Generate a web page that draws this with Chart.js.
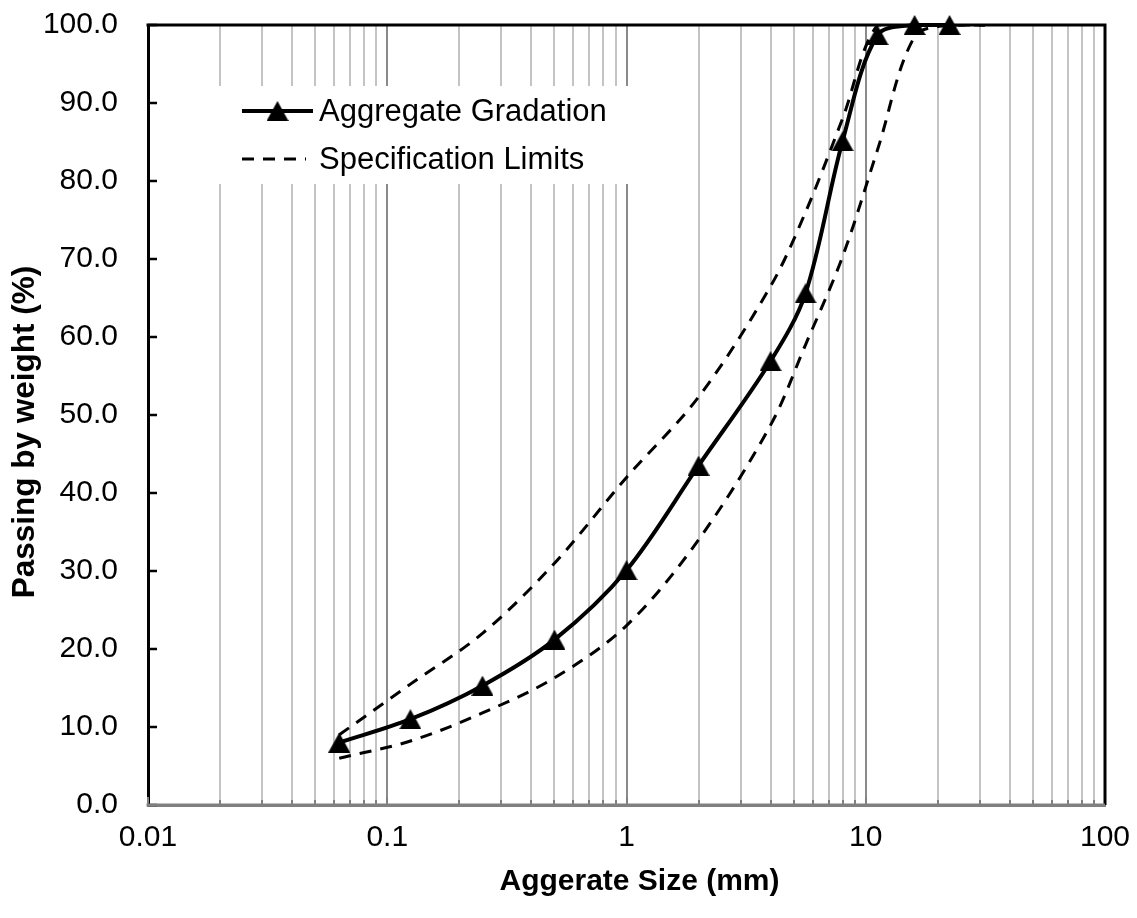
<!DOCTYPE html>
<html>
<head>
<meta charset="utf-8">
<script src="https://cdn.jsdelivr.net/npm/chart.js@4.4.1/dist/chart.umd.min.js"></script>
<style>
  html, body { margin: 0; padding: 0; background: #ffffff; }
  #wrap { width: 1137px; height: 918px; position: relative; }
</style>
</head>
<body>
<div id="wrap"><canvas id="chart"></canvas></div>
<script>
// ---------------- data ----------------
const sieveSizes   = [0.063, 0.125, 0.25, 0.5, 1, 2, 4, 5.6, 8, 11.2, 16, 22.4];
const gradation    = [8.0, 11.0, 15.3, 21.2, 30.1, 43.5, 56.9, 65.6, 85.1, 98.7, 100, 100];
const specSizes    = [0.063, 0.125, 0.25, 0.5, 1, 2, 4, 5.6, 8, 11.2, 16, 22.4, 31.5];
const specUpper    = [9.0, 15.5, 22.0, 31.0, 42.0, 52.3, 66.5, 76.0, 88.0, 100, 100, 100, 100];
const specLower    = [6.0, 8.2, 11.8, 16.3, 23.0, 34.0, 48.7, 59.0, 70.3, 84.0, 98.5, 100, 100];
const seriesNames  = ['Aggregate Gradation', 'Specification Limits'];
const xTickLabels  = ['0.01', '0.1', '1', '10', '100'];
const xDecades     = [0.01, 0.1, 1, 10, 100];
const gridMultipliers = [1, 2, 3, 4, 5, 6, 7, 8, 9];
const yMin = 0, yMax = 100, yStep = 10;
const xTitle = 'Aggerate Size (mm)';
const yTitle = 'Passing by weight (%)';

// ---------------- helpers ----------------
const FONT = '"Liberation Sans", Arial, Helvetica, sans-serif';
const isDecade = v => Math.abs(Math.log10(v) - Math.round(Math.log10(v))) < 1e-9;

const gridValues = [];
for (let i = 0; i < xDecades.length - 1; i++) {
  for (const m of gridMultipliers) gridValues.push(+(m * xDecades[i]).toPrecision(6));
}
gridValues.push(xDecades[xDecades.length - 1]);

function triangleCanvas(w, h) {
  const c = document.createElement('canvas');
  c.width = w; c.height = h;
  const g = c.getContext('2d');
  g.fillStyle = '#000';
  g.beginPath();
  g.moveTo(w / 2, 0);
  g.lineTo(w, h);
  g.lineTo(0, h);
  g.closePath();
  g.fill();
  return c;
}
const tri = triangleCanvas(22, 20);

const toPts = (xs, ys) => xs.map((x, i) => ({ x: x, y: ys[i] }));

// ---------------- plugins ----------------
const framePlugin = {
  id: 'frame',
  afterDatasetsDraw(chart) {
    const { ctx, chartArea: a, scales } = chart;
    ctx.save();
    // inward x ticks (gray)
    ctx.strokeStyle = '#808080';
    ctx.lineWidth = 2;
    for (const v of gridValues) {
      const px = Math.round(scales.x.getPixelForValue(v));
      const len = isDecade(v) ? 8 : 5;
      ctx.beginPath();
      ctx.moveTo(px, a.bottom);
      ctx.lineTo(px, a.bottom - len);
      ctx.stroke();
    }
    // inward y ticks (black)
    ctx.strokeStyle = '#000';
    ctx.lineWidth = 2.5;
    for (let v = yMin; v <= yMax; v += yStep) {
      const py = scales.y.getPixelForValue(v);
      ctx.beginPath();
      ctx.moveTo(a.left, py);
      ctx.lineTo(a.left + 9, py);
      ctx.stroke();
    }
    // top and right frame
    ctx.strokeStyle = '#000';
    ctx.lineWidth = 3;
    ctx.beginPath();
    ctx.moveTo(a.left - 1.5, a.top);
    ctx.lineTo(a.right, a.top);
    ctx.lineTo(a.right, a.bottom);
    ctx.stroke();
    // bottom axis on top at corner
    ctx.strokeStyle = '#808080';
    ctx.beginPath();
    ctx.moveTo(a.left - 1.5, a.bottom);
    ctx.lineTo(a.right, a.bottom);
    ctx.stroke();

    // legend inside plot
    const lx = a.left + 64, ly = a.top + 61, lw = 418, lh = 98;
    ctx.fillStyle = '#fff';
    ctx.fillRect(lx, ly, lw, lh);
    const row1 = ly + 25, row2 = ly + 73;
    const sx0 = lx + 30, sx1 = lx + 101;
    ctx.strokeStyle = '#000';
    ctx.setLineDash([]);
    ctx.lineWidth = 4;
    ctx.beginPath();
    ctx.moveTo(sx0, row1);
    ctx.lineTo(sx1, row1);
    ctx.stroke();
    ctx.drawImage(tri, (sx0 + sx1) / 2 - tri.width / 2, row1 - tri.height / 2);
    ctx.lineWidth = 3;
    ctx.setLineDash([12, 9]);
    ctx.beginPath();
    ctx.moveTo(sx0, row2);
    ctx.lineTo(sx0 + 64, row2);
    ctx.stroke();
    ctx.setLineDash([]);
    ctx.fillStyle = '#000';
    ctx.font = '31px ' + FONT;
    ctx.textBaseline = 'middle';
    ctx.textAlign = 'left';
    ctx.fillText(chart.data.datasets[0].label, lx + 107, row1 + 1);
    ctx.fillText(chart.data.datasets[1].label, lx + 107, row2 + 1);

    // axis titles
    ctx.textAlign = 'center';
    ctx.textBaseline = 'middle';
    ctx.font = 'bold 30px ' + FONT;
    ctx.fillText(xTitle, (a.left + a.right) / 2 + 13, a.bottom + 77);
    ctx.translate(25, (a.top + a.bottom) / 2 + 17);
    ctx.rotate(-Math.PI / 2);
    ctx.font = 'bold 31.5px ' + FONT;
    ctx.fillText(yTitle, 0, 0);
    ctx.restore();
  }
};

// ---------------- chart ----------------
new Chart(document.getElementById('chart'), {
  type: 'scatter',
  data: {
    datasets: [
      {
        label: seriesNames[0],
        data: toPts(sieveSizes, gradation),
        showLine: true,
        borderColor: '#000',
        backgroundColor: '#000',
        borderWidth: 4,
        tension: 0.33,
        pointStyle: tri,
        pointRadius: 11,
        clip: false,
        order: 0
      },
      {
        label: seriesNames[1],
        data: toPts(specSizes, specUpper),
        showLine: true,
        borderColor: '#000',
        borderWidth: 3,
        borderDash: [12, 9],
        tension: 0.33,
        pointRadius: 0,
        pointHoverRadius: 0,
        order: 1
      },
      {
        label: seriesNames[1],
        data: toPts(specSizes, specLower),
        showLine: true,
        borderColor: '#000',
        borderWidth: 3,
        borderDash: [12, 9],
        tension: 0.33,
        pointRadius: 0,
        pointHoverRadius: 0,
        order: 2
      }
    ]
  },
  options: {
    responsive: true,
    maintainAspectRatio: false,
    animation: false,
    events: [],
    layout: { autoPadding: false, padding: { top: 25, right: 32, left: 0, bottom: 0 } },
    plugins: {
      legend: { display: false },
      tooltip: { enabled: false }
    },
    scales: {
      x: {
        type: 'logarithmic',
        position: 'bottom',
        min: xDecades[0],
        max: xDecades[xDecades.length - 1],
        afterBuildTicks: (axis) => {
          axis.ticks = gridValues.map(v => ({ value: v, major: isDecade(v) }));
        },
        afterFit: (s) => {
          s.height = 113;
          s.paddingLeft = 0; s.paddingRight = 0; s.paddingTop = 0; s.paddingBottom = 0;
        },
        ticks: {
          autoSkip: false,
          maxRotation: 0,
          minRotation: 0,
          padding: 15,
          color: '#000',
          font: { family: FONT, size: 30 },
          callback: (v) => isDecade(v) ? xTickLabels[Math.round(Math.log10(v)) + 2] : ''
        },
        grid: {
          drawTicks: false,
          color: (c) => (c.tick && isDecade(c.tick.value)) ? '#8a8a8a' : '#c4c4c4',
          lineWidth: 2
        },
        border: { display: true, color: '#808080', width: 3 },
        title: { display: false }
      },
      y: {
        type: 'linear',
        position: 'left',
        min: yMin,
        max: yMax,
        afterFit: (s) => {
          s.width = 148;
          s.paddingLeft = 0; s.paddingRight = 0; s.paddingTop = 0; s.paddingBottom = 0;
        },
        ticks: {
          stepSize: yStep,
          padding: 30,
          color: '#000',
          font: { family: FONT, size: 30 },
          callback: (v) => Number(v).toFixed(1)
        },
        grid: { display: false, drawTicks: false },
        border: { display: true, color: '#000', width: 3 },
        title: { display: false }
      }
    }
  },
  plugins: [framePlugin]
});
</script>
</body>
</html>
